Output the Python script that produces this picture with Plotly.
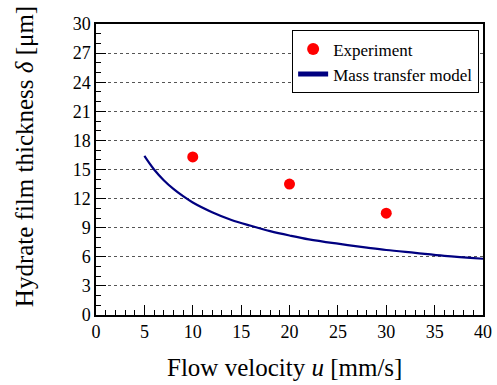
import plotly.graph_objects as go

exp_u = [10, 20, 30]
exp_delta = [16.3, 13.5, 10.5]

model_u = [5, 6, 7, 8, 9, 10, 12, 14, 16, 18, 20, 22, 25, 28, 30, 33, 36, 40]
model_delta = [16.4, 15.0, 13.9, 13.0, 12.25, 11.6, 10.6, 9.8, 9.2, 8.65, 8.2, 7.8, 7.35, 6.95, 6.7, 6.4, 6.1, 5.8]

x_ticks = [0, 5, 10, 15, 20, 25, 30, 35, 40]
y_ticks = [0, 3, 6, 9, 12, 15, 18, 21, 24, 27, 30]

font_family = "Liberation Serif"

fig = go.Figure()
fig.add_trace(go.Scatter(
    x=exp_u, y=exp_delta, mode="markers", name="Experiment",
    marker=dict(color="#ff0000", size=11, line=dict(width=0)),
))
fig.add_trace(go.Scatter(
    x=model_u, y=model_delta, mode="lines", name="Mass transfer model",
    line=dict(color="#000080", width=2.2, shape="spline"),
))

fig.update_layout(
    width=497, height=385,
    margin=dict(l=96, r=14, t=24, b=70, autoexpand=False),
    paper_bgcolor="white", plot_bgcolor="white",
    font=dict(family=font_family, size=17, color="black"),
    showlegend=True,
    legend=dict(
        x=0.99, y=0.978, xanchor="right", yanchor="top",
        bordercolor="black", borderwidth=1, bgcolor="white",
        font=dict(family=font_family, size=17, color="black"),
        tracegroupgap=0, itemsizing="constant",
    ),
    xaxis=dict(
        range=[0, 40], tickvals=x_ticks, ticktext=[str(v) for v in x_ticks],
        ticks="inside", ticklen=10, tickwidth=1, tickcolor="black",
        minor=dict(dtick=1, ticks="inside", ticklen=5, tickcolor="black", tickwidth=1, showgrid=False),
        showline=True, linecolor="black", linewidth=1.5, mirror=True,
        showgrid=False, zeroline=False, automargin=False,
        tickfont=dict(family=font_family, size=18),
    ),
    yaxis=dict(
        range=[0, 30], tickvals=y_ticks, ticktext=[str(v) for v in y_ticks],
        ticks="inside", ticklen=10, tickwidth=1, tickcolor="black",
        minor=dict(dtick=1, ticks="inside", ticklen=5, tickcolor="black", tickwidth=1, showgrid=False),
        showline=True, linecolor="black", linewidth=1.5, mirror=True,
        showgrid=True, gridcolor="#555555", griddash="dot", gridwidth=1,
        zeroline=False, automargin=False,
        tickfont=dict(family=font_family, size=18),
    ),
    annotations=[
        dict(text="Flow velocity <i>u</i> [mm/s]", xref="paper", yref="paper",
             x=0.486, y=-0.182, xanchor="center", yanchor="middle", showarrow=False,
             font=dict(family=font_family, size=25, color="black")),
        dict(text="Hydrate film thickness <i>δ</i> [μm]", xref="paper", yref="paper",
             x=-0.183, y=0.543, xanchor="center", yanchor="middle", showarrow=False,
             textangle=-90, font=dict(family=font_family, size=25, color="black")),
    ],
)

fig.write_html("out.html")
